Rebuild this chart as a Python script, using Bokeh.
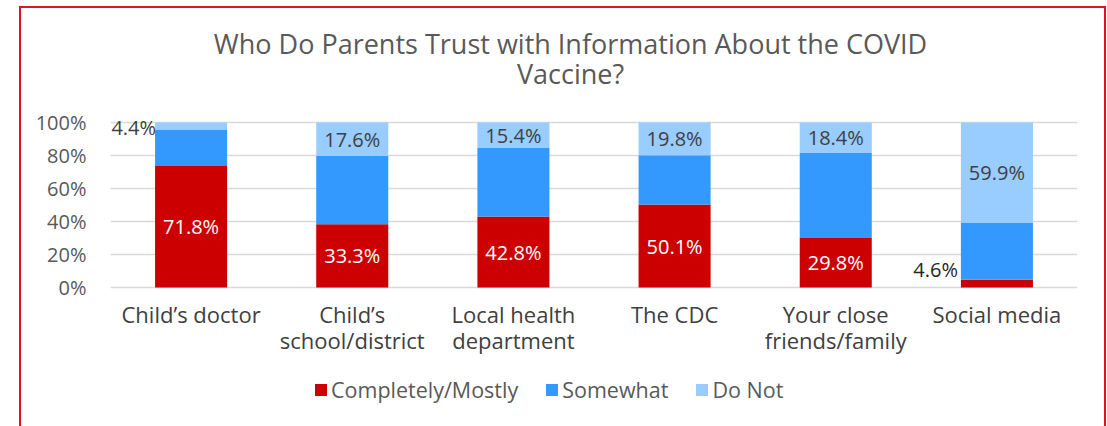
from bokeh.plotting import figure
from bokeh.models import ColumnDataSource, Legend, FactorRange, Range1d, Label
from bokeh.core.properties import value
from bokeh.embed import file_html
from bokeh.resources import INLINE

# ---- data ----
categories = ["Child’s doctor", "Child’s\nschool/district", "Local health\ndepartment",
              "The CDC", "Your close\nfriends/family", "Social media"]
completely = [71.8, 33.3, 42.8, 50.1, 29.8, 4.6]
somewhat = [21.3, 35.8, 41.4, 29.7, 51.3, 34.3]
do_not = [4.4, 17.6, 15.4, 19.8, 18.4, 59.9]
series = ["Completely/Mostly", "Somewhat", "Do Not"]
y_ticks = [0, 20, 40, 60, 80, 100]
y_tick_labels = ["0%", "20%", "40%", "60%", "80%", "100%"]
title_lines = ["Who Do Parents Trust with Information About the COVID", "Vaccine?"]

colors = ["#CC0000", "#3399FF", "#99CCFF"]
FONT = "Open Sans"

# normalise to 100% stacked
totals = [c + s + d for c, s, d in zip(completely, somewhat, do_not)]
sc = [c / t * 100 for c, t in zip(completely, totals)]
ss = [s / t * 100 for s, t in zip(somewhat, totals)]
sd = [d / t * 100 for d, t in zip(do_not, totals)]

src = ColumnDataSource(dict(cat=categories, c=sc, s=ss, d=sd))

# frame spans the full inner height; 0..100 covers 165 px, 0 lies 139 px above the bottom
PLOT_PX = 165
ABOVE_PX = 279
BELOW_PX = 139
y_end = 100 * ABOVE_PX / PLOT_PX
y_start = -100 * BELOW_PX / PLOT_PX

p = figure(x_range=FactorRange(*categories), y_range=Range1d(y_start, y_end),
           frame_width=967, frame_height=ABOVE_PX + BELOW_PX, output_backend="svg",
           toolbar_location=None,
           min_border_left=89, min_border_right=27, min_border_top=0, min_border_bottom=0)
p.margin = (6, 0, 0, 19)
p.styles = {"border-top": "2px solid #E0141E", "border-left": "2px solid #E0141E",
            "border-right": "2px solid #E0141E"}
p.outline_line_color = None
p.background_fill_color = "white"
p.border_fill_color = "white"
p.title = None

for k, line in enumerate(title_lines):
    p.add_layout(Label(x=460, y=BELOW_PX + 244 - 30 * k, x_units="screen", y_units="screen",
                       text=line, text_align="center", text_baseline="middle", text_font=FONT,
                       text_font_size="27px", text_color="#595959"))

rs = p.vbar_stack(["c", "s", "d"], x="cat", width=0.447, color=colors, source=src,
                  line_color=None)

p.xgrid.visible = False
p.ygrid.grid_line_color = "#D9D9D9"
p.ygrid.grid_line_width = 1.5
p.yaxis.ticker = y_ticks
p.ygrid.ticker = y_ticks
p.yaxis.major_label_overrides = {t: l for t, l in zip(y_ticks, y_tick_labels)}
p.xaxis.fixed_location = 0
for ax in (p.xaxis[0], p.yaxis[0]):
    ax.axis_line_color = None
    ax.major_tick_line_color = None
    ax.minor_tick_line_color = None
    ax.major_label_text_font = FONT
p.yaxis.major_label_text_font_size = "20px"
p.yaxis.major_label_text_color = "#595959"
p.yaxis.major_label_standoff = 18
p.xaxis.major_label_text_font_size = "22px"
p.xaxis.major_label_text_color = "#404040"
p.xaxis.major_label_text_line_height = 0.87
p.xaxis.major_label_standoff = 5
p.xaxis.group_text_font_size = "0px"

# labels inside red
idx_in = [i for i in range(len(categories)) if sc[i] > 10]
p.text(x=[categories[i] for i in idx_in], y=[sc[i] / 2 for i in idx_in],
       text=[f"{completely[i]:.1f}%" for i in idx_in], text_color="white",
       text_align="center", text_baseline="middle", text_font=value(FONT), text_font_size="20px")
# labels in light blue
idx_d = [i for i in range(len(categories)) if sd[i] > 10]
p.text(x=[categories[i] for i in idx_d], y=[sc[i] + ss[i] + sd[i] / 2 for i in idx_d],
       text=[f"{do_not[i]:.1f}%" for i in idx_d], text_color="#404040",
       text_align="center", text_baseline="middle", text_font=value(FONT), text_font_size="20px")
# small outside labels
idx_d_out = [i for i in range(len(categories)) if sd[i] <= 10]
p.text(x=[categories[i] for i in idx_d_out], y=[sc[i] + ss[i] + sd[i] / 2 for i in idx_d_out],
       text=[f"{do_not[i]:.1f}%" for i in idx_d_out], text_color="#404040",
       x_offset=-35, y_offset=1, text_align="right", text_baseline="middle",
       text_font=value(FONT), text_font_size="20px")
idx_c_out = [i for i in range(len(categories)) if sc[i] <= 10]
p.text(x=[categories[i] for i in idx_c_out], y=[sc[i] for i in idx_c_out],
       text=[f"{completely[i]:.1f}%" for i in idx_c_out], text_color="#262626",
       x_offset=-39, y_offset=-10, text_align="right", text_baseline="middle",
       text_font=value(FONT), text_font_size="20px")

legend = Legend(items=[(name, [r]) for name, r in zip(series, rs)],
                location=(203, 22), orientation="horizontal",
                glyph_width=15, glyph_height=15, label_standoff=3, spacing=26,
                padding=0, margin=0, border_line_color=None, background_fill_alpha=0,
                label_text_font=FONT, label_text_font_size="21.5px", label_text_color="#595959")
p.add_layout(legend, "center")

open("out.html", "w").write(file_html(p, INLINE))
